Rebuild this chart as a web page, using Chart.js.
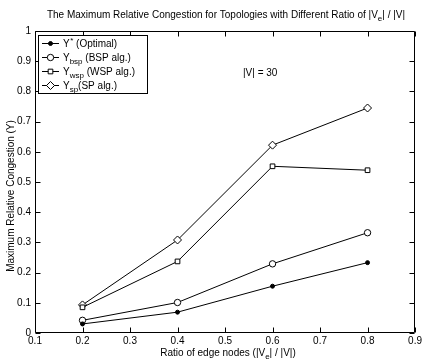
<!DOCTYPE html>
<html>
<head>
<meta charset="utf-8">
<script src="https://cdn.jsdelivr.net/npm/chart.js@4"></script>
<style>
html,body{margin:0;padding:0;background:#fff;}
#wrap{width:424px;height:360px;position:relative;}
</style>
</head>
<body>
<div id="wrap"><canvas id="c" width="424" height="360"></canvas></div>
<script>
const ratios = [0.2, 0.4, 0.6, 0.8];
const optimal = [0.030, 0.069, 0.155, 0.233];
const bspAlg = [0.042, 0.101, 0.229, 0.332];
const wspAlg = [0.085, 0.237, 0.552, 0.539];
const spAlg = [0.093, 0.308, 0.622, 0.745];
const xTicks = [0.1, 0.2, 0.3, 0.4, 0.5, 0.6, 0.7, 0.8, 0.9];
const yTicks = [0, 0.1, 0.2, 0.3, 0.4, 0.5, 0.6, 0.7, 0.8, 0.9, 1];
const titleText = ['The Maximum Relative Congestion for Topologies with Different Ratio of |V', 'e', '| / |V|'];
const xTitle = ['Ratio of edge nodes (|V', 'e', '| / |V|)'];
const yTitle = 'Maximum Relative Congestion (Y)';
const noteText = '|V| = 30';
const legendItems = [
  {base: 'Y', sup: '*', sub: '', rest: ' (Optimal)'},
  {base: 'Y', sup: '', sub: 'bsp', rest: ' (BSP alg.)'},
  {base: 'Y', sup: '', sub: 'wsp', rest: ' (WSP alg.)'},
  {base: 'Y', sup: '', sub: 'sp', rest: '(SP alg.)'}
];

const FONT = '"Liberation Sans", Arial, Helvetica, sans-serif';
const toXY = arr => arr.map((v, i) => ({x: ratios[i], y: v}));

const styles = [
  {pointStyle: 'circle', radius: 2, bg: '#000'},
  {pointStyle: 'circle', radius: 3.2, bg: '#fff'},
  {pointStyle: 'rect', radius: 3.3, bg: '#fff'},
  {pointStyle: 'rectRot', radius: 4, bg: '#fff'}
];
const series = [optimal, bspAlg, wspAlg, spAlg];

function drawMarker(ctx, st, x, y) {
  Chart.helpers.drawPoint(ctx, {pointStyle: st.pointStyle, radius: st.radius, rotation: 0, borderWidth: 1}, x, y);
}

function drawSubText(ctx, parts, x, y, size, align) {
  ctx.font = size + 'px ' + FONT;
  const subSize = Math.round(size * 0.75);
  const w1 = ctx.measureText(parts[0]).width;
  ctx.font = subSize + 'px ' + FONT;
  const w2 = ctx.measureText(parts[1]).width;
  ctx.font = size + 'px ' + FONT;
  const w3 = ctx.measureText(parts[2]).width;
  const total = w1 + w2 + w3;
  let sx = align === 'center' ? x - total / 2 : x;
  ctx.textAlign = 'left';
  ctx.textBaseline = 'alphabetic';
  ctx.fillText(parts[0], sx, y);
  ctx.font = subSize + 'px ' + FONT;
  ctx.fillText(parts[1], sx + w1, y + 3);
  ctx.font = size + 'px ' + FONT;
  ctx.fillText(parts[2], sx + w1 + w2, y);
}

const decor = {
  id: 'decor',
  afterDraw(chart) {
    const ctx = chart.ctx;
    const a = chart.chartArea;
    const xs = chart.scales.x, ys = chart.scales.y;
    ctx.save();
    ctx.strokeStyle = '#000';
    ctx.fillStyle = '#000';
    ctx.lineWidth = 1;
    const L = Math.round(a.left) + 0.5, R = Math.round(a.right) - 0.5;
    const T = Math.round(a.top) + 0.5, B = Math.round(a.bottom) - 0.5;
    ctx.beginPath();
    ctx.rect(L, T, R - L, B - T);
    ctx.stroke();
    ctx.beginPath();
    xTicks.forEach(v => {
      const px = Math.round(xs.getPixelForValue(v)) + 0.5;
      ctx.moveTo(px, B); ctx.lineTo(px, B - 5);
      ctx.moveTo(px, T); ctx.lineTo(px, T + 5);
    });
    yTicks.forEach(v => {
      const py = Math.round(ys.getPixelForValue(v)) + 0.5;
      ctx.moveTo(L, py); ctx.lineTo(L + 5, py);
      ctx.moveTo(R, py); ctx.lineTo(R - 5, py);
    });
    ctx.stroke();

    drawSubText(ctx, titleText, 226, 18, 10, 'center');
    drawSubText(ctx, xTitle, 228, 356, 10, 'center');
    ctx.save();
    ctx.translate(14, 196);
    ctx.rotate(-Math.PI / 2);
    ctx.font = '10px ' + FONT;
    ctx.textAlign = 'center';
    ctx.textBaseline = 'alphabetic';
    ctx.fillText(yTitle, 0, 0);
    ctx.restore();

    ctx.font = '10px ' + FONT;
    ctx.textAlign = 'left';
    ctx.textBaseline = 'middle';
    ctx.fillText(noteText, 243, 73);

    const lx = 38.5, ly = 35.5, lw = 109, lh = 58;
    ctx.fillStyle = '#fff';
    ctx.fillRect(lx, ly, lw, lh);
    ctx.strokeRect(lx, ly, lw, lh);
    legendItems.forEach((it, i) => {
      const y = 43.5 + i * 14;
      ctx.strokeStyle = '#000';
      ctx.beginPath();
      ctx.moveTo(42, y); ctx.lineTo(59, y);
      ctx.stroke();
      ctx.fillStyle = styles[i].bg;
      ctx.strokeStyle = '#000';
      drawMarker(ctx, styles[i], 50.5, y);
      ctx.fillStyle = '#000';
      ctx.textAlign = 'left';
      ctx.textBaseline = 'alphabetic';
      let x = 63;
      const base = y + 3.5;
      ctx.font = '10px ' + FONT;
      ctx.fillText(it.base, x, base);
      x += ctx.measureText(it.base).width;
      let extra = 0;
      if (it.sup) {
        ctx.font = '8px ' + FONT;
        ctx.fillText(it.sup, x + 0.5, base - 4);
        extra = ctx.measureText(it.sup).width + 0.5;
      }
      if (it.sub) {
        ctx.font = '8px ' + FONT;
        ctx.fillText(it.sub, x, base + 3);
        extra = ctx.measureText(it.sub).width;
      }
      x += extra;
      ctx.font = '10px ' + FONT;
      ctx.fillText(it.rest, x, base);
    });
    ctx.restore();
  }
};

new Chart(document.getElementById('c'), {
  type: 'line',
  data: {
    datasets: series.map((s, i) => ({
      data: toXY(s),
      borderColor: '#000',
      borderWidth: 1,
      backgroundColor: styles[i].bg,
      pointBackgroundColor: styles[i].bg,
      pointBorderColor: '#000',
      pointBorderWidth: 1,
      pointStyle: styles[i].pointStyle,
      pointRadius: styles[i].radius,
      tension: 0,
      fill: false
    }))
  },
  options: {
    responsive: false,
    animation: false,
    devicePixelRatio: 1,
    layout: {padding: {left: 0, right: 4, top: 31, bottom: 0}},
    plugins: {legend: {display: false}, title: {display: false}, tooltip: {enabled: false}},
    scales: {
      x: {
        type: 'linear', min: 0.1, max: 0.9,
        afterBuildTicks: s => { s.ticks = xTicks.map(v => ({value: v})); },
        afterFit: s => { s.height = 27; },
        grid: {display: false, drawTicks: false},
        border: {display: false},
        ticks: {
          color: '#000', padding: 2, maxRotation: 0, autoSkip: false,
          font: {family: FONT, size: 10},
          callback: v => Number(v).toFixed(1)
        }
      },
      y: {
        type: 'linear', min: 0, max: 1,
        afterBuildTicks: s => { s.ticks = yTicks.map(v => ({value: v})); },
        afterFit: s => { s.width = 35; },
        grid: {display: false, drawTicks: false},
        border: {display: false},
        ticks: {
          color: '#000', padding: 4, autoSkip: false,
          font: {family: FONT, size: 10},
          callback: v => (v === 0 || v === 1) ? String(v) : Number(v).toFixed(1)
        }
      }
    }
  },
  plugins: [decor]
});
</script>
</body>
</html>
